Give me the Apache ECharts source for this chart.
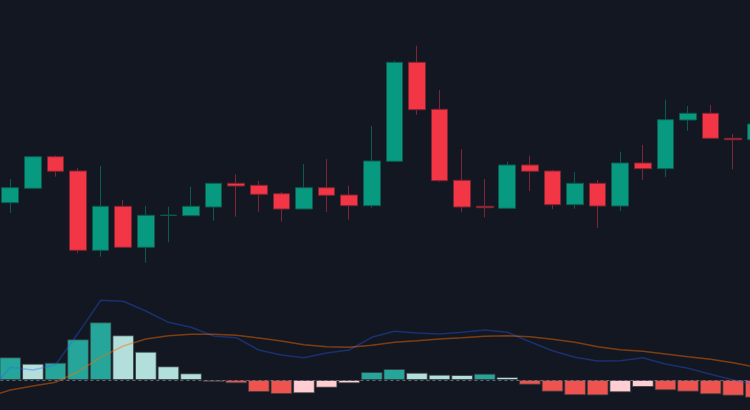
<!DOCTYPE html>
<html>
<head>
<meta charset="utf-8">
<script src="https://cdn.jsdelivr.net/npm/echarts@6/dist/echarts.min.js"></script>
<style>
html,body{margin:0;padding:0;background:#131722;}
#chart{width:750px;height:410px;}
</style>
</head>
<body>
<div id="chart"></div>
<script>
// index 0 is a leading bar that sits just off the left edge
const categories = [];
for (let i = 0; i < 35; i++) categories.push('D' + (i + 1));

// [open, close, low, high]
const candles = [
  [50.0, 52.0, 47.0, 55.0],
  [48.65, 56.15, 43.5, 60.5],
  [55.85, 71.65, 55.85, 71.65],
  [71.65, 64.35, 61.65, 72.35],
  [64.5, 24.85, 23.35, 66.15],
  [24.85, 46.85, 21.65, 67.0],
  [46.85, 26.35, 26.35, 50.0],
  [26.35, 42.35, 18.65, 47.0],
  [42.3, 42.4, 28.85, 46.65],
  [42.15, 46.85, 42.15, 56.65],
  [46.5, 58.35, 39.65, 58.5],
  [58.35, 57.0, 41.65, 62.85],
  [57.35, 52.85, 44.15, 59.5],
  [53.15, 45.5, 39.15, 54.0],
  [45.5, 56.15, 45.5, 68.0],
  [56.15, 52.35, 44.0, 70.5],
  [52.5, 47.15, 40.15, 57.15],
  [47.15, 69.5, 46.15, 87.0],
  [69.35, 118.85, 69.35, 119.65],
  [118.85, 95.15, 92.65, 127.15],
  [95.35, 59.65, 59.15, 105.0],
  [59.85, 46.5, 43.85, 75.35],
  [46.85, 46.15, 41.35, 60.5],
  [45.85, 67.5, 45.85, 69.15],
  [67.5, 64.35, 54.5, 72.15],
  [64.5, 47.65, 45.5, 65.0],
  [47.65, 58.35, 45.65, 64.0],
  [58.35, 47.0, 36.0, 60.0],
  [47.0, 68.5, 44.5, 74.15],
  [68.5, 65.65, 60.0, 77.5],
  [65.65, 90.15, 61.5, 100.15],
  [90.0, 93.35, 84.65, 97.0],
  [93.35, 80.85, 80.85, 97.5],
  [80.85, 80.15, 65.35, 83.0],
  [80.15, 88.0, 78.0, 90.0]
];

const macdLine = [-0.13, 0.127, 0.10, 0.15, 0.467, 0.797, 0.787, 0.69, 0.577, 0.527,
  0.44, 0.423, 0.30, 0.25, 0.223, 0.27, 0.30, 0.427, 0.487, 0.47,
  0.46, 0.477, 0.50, 0.477, 0.383, 0.293, 0.227, 0.19, 0.193, 0.223,
  0.16, 0.117, 0.057, 0.0, -0.05];

const signalLine = [-0.171, -0.10, -0.06, -0.023, 0.083, 0.227, 0.34, 0.41, 0.443, 0.457,
  0.457, 0.447, 0.42, 0.39, 0.353, 0.333, 0.327, 0.347, 0.377, 0.393,
  0.41, 0.423, 0.437, 0.443, 0.433, 0.407, 0.377, 0.333, 0.303, 0.287,
  0.26, 0.233, 0.207, 0.173, 0.13];

const histogram = [0.041, 0.227, 0.163, 0.173, 0.407, 0.577, 0.447, 0.283, 0.137, 0.067,
  -0.02, -0.033, -0.12, -0.14, -0.133, -0.077, -0.033, 0.08, 0.11, 0.073,
  0.053, 0.05, 0.063, 0.03, -0.047, -0.117, -0.152, -0.154, -0.123, -0.07,
  -0.103, -0.117, -0.143, -0.157, -0.177];

function histColor(i) {
  const v = histogram[i];
  const prev = i > 0 ? histogram[i - 1] : v;
  if (v >= 0) return v >= prev ? '#26a69a' : '#b2dfdb';
  return v < prev ? '#ef5350' : '#ffcdd2';
}

const histData = histogram.map((v, i) => ({
  value: v,
  itemStyle: { color: histColor(i) }
}));

const chart = echarts.init(document.getElementById('chart'));
chart.setOption({
  animation: false,
  backgroundColor: '#131722',
  grid: [
    { left: -23.6, width: 790.7, top: 0, height: 300, outerBoundsMode: 'none', containLabel: false },
    { left: -23.6, width: 790.7, top: 280, height: 130, outerBoundsMode: 'none', containLabel: false }
  ],
  xAxis: [
    { type: 'category', data: categories, gridIndex: 0, show: false, boundaryGap: true },
    { type: 'category', data: categories, gridIndex: 1, show: false, boundaryGap: true }
  ],
  yAxis: [
    { type: 'value', gridIndex: 0, min: 0, max: 150, show: false, splitLine: { show: false } },
    { type: 'value', gridIndex: 1, min: -0.30, max: 1.00, show: false, splitLine: { show: false } }
  ],
  series: [
    {
      type: 'candlestick',
      xAxisIndex: 0, yAxisIndex: 0,
      data: candles,
      barWidth: '76%',
      itemStyle: {
        color: '#089981',
        color0: '#f23645',
        borderColor: '#0c5a4e',
        borderColor0: '#7e2432',
        borderWidth: 1
      }
    },
    {
      type: 'bar',
      xAxisIndex: 1, yAxisIndex: 1,
      data: histData,
      barCategoryGap: '4%',
      itemStyle: { borderColor: 'rgba(55,60,62,0.75)', borderWidth: 1 },
      markLine: {
        silent: true,
        symbol: 'none',
        label: { show: false },
        lineStyle: { color: 'rgba(120,123,134,0.8)', type: [3, 3], width: 1 },
        data: [{ yAxis: 0 }]
      }
    },
    {
      type: 'line',
      xAxisIndex: 1, yAxisIndex: 1,
      data: macdLine,
      symbol: 'none',
      lineStyle: { color: '#2962ff', width: 1.5, opacity: 0.35 }
    },
    {
      type: 'line',
      xAxisIndex: 1, yAxisIndex: 1,
      data: signalLine,
      symbol: 'none',
      lineStyle: { color: '#ff6d00', width: 1.5, opacity: 0.45 }
    }
  ]
});
</script>
</body>
</html>
